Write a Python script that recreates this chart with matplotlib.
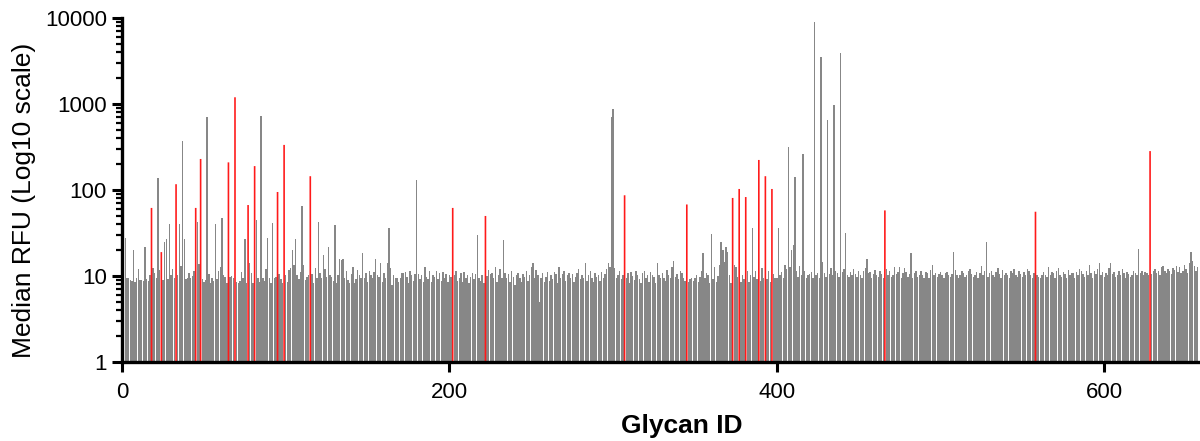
import numpy as np
import matplotlib
matplotlib.use("Agg")
import matplotlib.pyplot as plt
from matplotlib.ticker import LogLocator, FixedLocator, NullFormatter

plt.rcParams['font.family'] = ['Liberation Sans', 'DejaVu Sans']

# background median RFU per glycan (ids 1..657)
base_rfu = [
    11, 10, 9.6, 9.4, 9.0, 8.8, 9.2, 8.6, 9.4, 12, 9.1, 8.9, 8.7, 9.5, 9.3, 8.8, 10.2, 10, 12.5, 11,
    9.4, 9.6, 11.8, 14, 9, 12, 11, 9.2, 8.4, 10.2, 12.2, 9.6, 9.8, 10.4, 12, 13.2, 9.8, 10.6, 9.2, 9.4,
    10.8, 9.6, 10, 11.6, 8.2, 9.4, 13.8, 9.6, 9.2, 8.6, 9, 8.8, 10.6, 8.4, 9.4, 8.8, 9.8, 9.2, 11.4, 12.6,
    9.6, 10.4, 9.8, 8.4, 9.4, 9.8, 10, 9.6, 10.2, 8.6, 8.2, 8.8, 11.2, 9.4, 12.6, 8.2, 8.6, 14, 11, 8.4,
    9.2, 10.8, 9.4, 8.6, 13.2, 9.6, 8.8, 12, 10.4, 9.6, 8.4, 13, 9.4, 9.8, 8.4, 10.6, 9.2, 8.4, 8.2, 10.2,
    8.6, 11.8, 12.4, 10.2, 13.6, 12, 10.4, 9.2, 11.2, 9.8, 13.4, 9, 9.8, 10.2, 9.4, 10.6, 8.2, 12.4, 9.6, 11,
    10.8, 9.6, 17.5, 12.2, 9.8, 12.6, 10.2, 9.8, 8.8, 9.6, 8.4, 10.4, 16, 15.5, 16, 9.6, 11.4, 9, 8.2, 10.6,
    12.6, 8.4, 9.2, 11.8, 10.4, 9.6, 18.5, 9.4, 10.8, 8.6, 11.6, 10.2, 9.4, 11.2, 16, 10.4, 9.8, 14, 8.6, 10.8,
    9.4, 14, 8.6, 12.4, 7.8, 10.2, 9.6, 9.6, 8.6, 9.6, 11, 10.8, 11.2, 9.8, 8.4, 11.4, 10.2, 8.8, 10.6, 9.2,
    10.6, 9.2, 10.2, 8.6, 12.7, 9.8, 9.2, 11.4, 8.6, 10.4, 9.8, 11.6, 9.2, 10.8, 8.8, 11.2, 9.4, 10.6, 8.6, 10.4,
    9.8, 8.4, 10.2, 11.4, 8.8, 9.6, 10.8, 8.6, 11.2, 9.4, 10.4, 8.2, 9.8, 11, 9.2, 10.6, 9.4, 9.6, 8.8, 10.2,
    8.2, 9.6, 10, 11.8, 10.6, 11, 9.4, 12.8, 8.6, 10.2, 12, 9.6, 8.8, 10.8, 9.4, 10.6, 8.6, 11.6, 9.8, 7.8,
    10.2, 11, 9.4, 8.6, 10.6, 9.8, 11.4, 8.8, 10.4, 12.6, 14, 9.6, 11.8, 10.2, 5, 9.4, 10.8, 8.6, 9.8, 11.2,
    8.8, 10.4, 9.2, 11.2, 10.6, 8.2, 12.8, 9.4, 10.6, 11.6, 8.8, 10.2, 11, 9.4, 10.6, 8.6, 9.8, 10.8, 12.2, 9.2,
    10.4, 9.6, 14, 8.8, 10.2, 11.6, 9.4, 8.6, 10.8, 9.8, 10.4, 8.8, 11.2, 9.6, 10.6, 12.2, 14, 12.6, 10, 10,
    12.4, 9.4, 10.2, 11.6, 9.2, 10.4, 9.6, 9.4, 10.8, 8.4, 11.2, 10, 9, 11.6, 10.4, 9.2, 8.2, 10.8, 11.4, 9.6,
    10.2, 8.6, 11.2, 10.4, 9.8, 8.4, 14, 10.2, 9.4, 11, 9.6, 8.8, 11.8, 10.2, 9.6, 12.6, 15, 9.8, 10.6, 9.2,
    11.4, 10.8, 9.6, 8.8, 10.4, 8.6, 9.2, 9.4, 8.8, 9.6, 10.2, 8.6, 9.8, 11.4, 18.5, 9.6, 11, 10.2, 8.4, 12.6,
    9.2, 12.8, 8.6, 10, 13.4, 25, 20, 14.6, 22, 19, 10.2, 8.4, 9.6, 13.4, 12.8, 9.8, 11.7, 8.6, 10.4, 9.2,
    9.8, 11.4, 8.6, 10.2, 14.2, 9.8, 11.6, 9.2, 10.8, 8.8, 12.4, 9.6, 10.4, 9.2, 11.4, 8.6, 9.8, 10.6, 9.4, 9.4,
    12.2, 10.4, 11.2, 9.6, 13.4, 12, 14.6, 12.8, 20, 23, 10.6, 11.4, 9.8, 13.2, 10.4, 12, 11.4, 9.6, 10.2, 10.6,
    11.2, 9.4, 12.2, 10.4, 11, 9.6, 10.2, 14.6, 10.8, 9.8, 11.2, 10.6, 12.4, 10.2, 9.6, 11.4, 10.8, 9.8, 10.4, 11.2,
    12, 11.6, 10.4, 9.8, 11.2, 10.4, 12.2, 10.6, 9.8, 11.4, 10.2, 9.4, 11.6, 12.4, 9.6, 10.8, 11.2, 9.4, 10.6, 11.8,
    10.2, 9.8, 11.4, 10.6, 9.6, 10.8, 12.2, 10.4, 11.6, 9.8, 10.2, 12.8, 10.6, 11.2, 12.6, 9.4, 10.8, 12.4, 11.2, 9.8,
    10.6, 12.2, 9.6, 10.8, 11.4, 9.8, 10.2, 11.6, 10.4, 9.6, 11.2, 10.8, 9.4, 11.8, 13.4, 10.2, 11, 9.8, 10.6, 11.2,
    10.4, 9.6, 10.8, 11.2, 10.2, 9.8, 10.6, 11, 11.8, 10.4, 9.6, 10.2, 11.4, 10.8, 9.8, 10.4, 11.6, 12.2, 10.6, 9.8,
    10.4, 11.2, 9.6, 10.8, 13, 10.2, 11.4, 10.6, 9.8, 10.8, 11.6, 10.2, 9.8, 11.2, 12.4, 10.6, 9.6, 11.8, 10.4, 11,
    10.2, 9.6, 11.4, 10.8, 12.2, 10.4, 9.8, 11.6, 10.6, 9.8, 11.2, 10.4, 12, 11.4, 10.2, 9.6, 11, 10.4, 10.2, 9.8,
    9.6, 10.4, 11.2, 10.2, 9.8, 12.6, 10.4, 11.2, 10.8, 9.6, 11.4, 12.4, 10.2, 9.8, 11.2, 10.6, 9.4, 11.8, 10.4, 11,
    10.8, 9.6, 11.2, 10.2, 12.2, 11.4, 10.6, 9.8, 11.6, 10.2, 13.6, 10.8, 9.6, 11.4, 10.6, 12, 14, 10.4, 11.2, 9.8,
    11, 10.4, 12.4, 14, 10.6, 11.2, 9.8, 10.4, 11.6, 10.2, 12.2, 10.8, 9.4, 11.2, 10.6, 9.8, 10.2, 11.4, 10.8, 10.4,
    12.2, 11, 11.6, 10.4, 11.2, 10.8, 10.2, 11, 10.6, 11.4, 12.2, 10.8, 11.6, 10.4, 12.6, 13.2, 11.4, 10.8, 12.2, 11.6,
    10.6, 12.4, 11.8, 13, 11.2, 12.6, 10.8, 11.6, 13.4, 12.2, 11, 14.2, 19, 15, 13.2, 11.6, 12.6,
]

# gray bars that stand out above the background
peak_ids = [2, 7, 14, 22, 26, 27, 29, 35, 37, 38, 46, 52, 57, 61, 75, 82, 85, 89, 92,
            104, 106, 110, 120, 126, 130, 163, 180, 217, 233, 299, 300, 355, 360,
            385, 401, 407, 411, 416, 423, 427, 431, 435, 439, 442, 455, 482, 508,
            528, 621, 653]
peak_rfu = [28, 20, 22, 138, 25, 27, 40, 40, 373, 27, 42, 710, 40, 47, 27, 45, 720, 28, 41,
            20, 27, 65, 42, 22, 39, 36, 132, 30, 26, 700, 870, 18.5, 31,
            36, 36, 316, 141, 262, 9000, 3530, 650, 975, 3900, 32, 16, 18.5, 19,
            25, 20.5, 19]

# highlighted (red) glycans
red_ids = [18, 24, 33, 45, 48, 65, 69, 77, 81, 95, 99, 115, 202, 222, 307,
           345, 373, 377, 381, 389, 393, 397, 466, 558, 628]
red_rfu = [62, 19, 117, 62, 230, 210, 1200, 67, 190, 95, 335, 145, 62, 50, 87,
           68, 81, 103, 83, 224, 145, 103, 58, 56, 284]

ids = np.arange(1, len(base_rfu) + 1)
rfu = np.array(base_rfu, dtype=float)
rfu[np.array(peak_ids) - 1] = peak_rfu

is_red = np.zeros(len(ids), dtype=bool)
is_red[np.array(red_ids) - 1] = True
rfu[np.array(red_ids) - 1] = red_rfu

fig = plt.figure(figsize=(12, 4.41), dpi=100)
ax = fig.add_axes([0.1017, 0.179, 0.8983, 0.78])

ax.bar(ids[~is_red], rfu[~is_red] - 1, bottom=1, width=0.86, color='#878787', linewidth=0)
ax.bar(ids[is_red], rfu[is_red] - 1, bottom=1, width=1.0, color='#ff1a1a', linewidth=0,
       snap=False, zorder=3)

ax.set_yscale('log')
ax.set_ylim(1, 10000)
ax.set_xlim(0, 658.5)
ax.set_yticks([1, 10, 100, 1000, 10000])
ax.set_yticklabels(['1', '10', '100', '1000', '10000'])
ax.yaxis.set_minor_locator(LogLocator(base=10, subs=np.arange(2, 10)))
ax.yaxis.set_minor_formatter(NullFormatter())
ax.xaxis.set_major_locator(FixedLocator([0, 200, 400, 600]))

for s in ['top', 'right']:
    ax.spines[s].set_visible(False)
for s in ['left', 'bottom']:
    ax.spines[s].set_linewidth(2.4)
    ax.spines[s].set_zorder(4)

ax.tick_params(axis='both', which='major', direction='out', length=7, width=2.2,
               labelsize=16, pad=4)
ax.tick_params(axis='y', which='minor', direction='out', length=4.5, width=1.6)
ax.tick_params(axis='x', which='major', pad=7)

ax.set_ylabel('Median RFU (Log10 scale)', fontsize=19)
ax.set_xlabel('Glycan ID', fontsize=19, fontweight='bold')
ax.yaxis.set_label_coords(-0.08, 0.47)
ax.xaxis.set_label_coords(0.519, -0.15)

fig.savefig('out.png', dpi=100)
